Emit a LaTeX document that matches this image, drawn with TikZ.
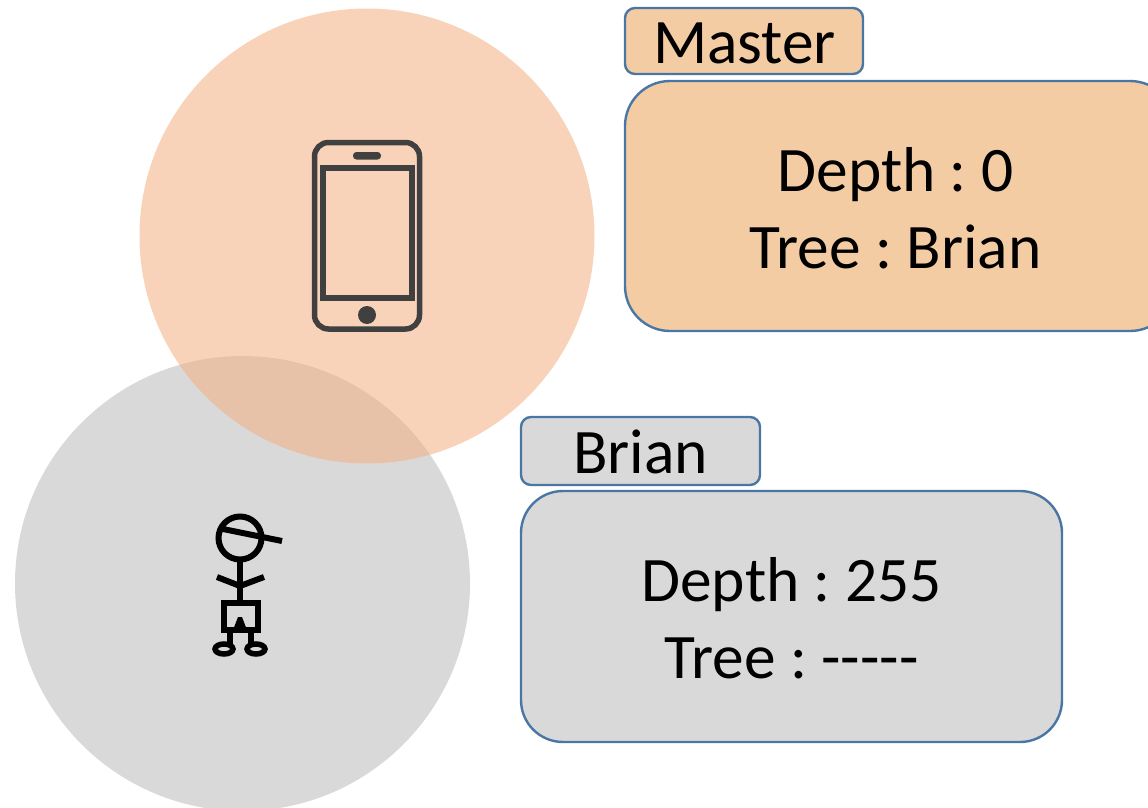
\documentclass[tikz,border=0pt]{standalone}
\usepackage{fontspec}
\setmainfont{Carlito}
\definecolor{peach}{HTML}{F4B183}
\definecolor{greyfill}{HTML}{D9D9D9}
\definecolor{boxpeach}{HTML}{F4CCA4}
\definecolor{edgeblue}{HTML}{4A76A4}
\definecolor{iconink}{HTML}{404040}
\tikzset{
  px/.style={x=1pt,y=-1pt},
  disc/.style={circle,draw=none,inner sep=0pt,minimum size=455pt},
  tag/.style={draw=edgeblue,line width=2.4pt,rounded corners=10pt,inner sep=0pt},
  panel/.style={draw=edgeblue,line width=2.4pt,inner sep=0pt},
  words/.style={inner sep=0pt,align=center,font=\fontsize{63.4}{77}\selectfont\frenchspacing},
  ink/.style={draw=black,line width=6pt},
  phoneink/.style={draw=iconink,line width=5.5pt}
}
\begin{document}
\begin{tikzpicture}[px]
\useasboundingbox (0,0) rectangle (1148,808);
\clip (0,0) rectangle (1148,808);
\node[disc,fill=greyfill] (briandisc) at (242.5,583.5) {};
\node[disc,fill=peach,fill opacity=0.56] (masterdisc) at (367,236) {};
% phone
\draw[phoneink,rounded corners=14pt] (314.5,142.5) rectangle (419.5,329);
\draw[phoneink] (323,168) rectangle (412,298);
\fill[iconink,rounded corners=3.4pt] (353,152) rectangle (381,159.5);
\fill[iconink] (367,315) circle (9);
% person
\draw[ink] (240,538) circle (21.5);
\draw[ink] (223,529) -- (282,541);
\draw[ink] (240,560) -- (240,602);
\draw[ink] (217,577) -- (240,586) -- (264,577);
\draw[ink] (224,603) rectangle (258,629.5);
\fill[black] (233,630) -- (238,617) -- (242,617) -- (247,630) -- cycle;
\draw[ink,line width=5.5pt] (230,631) -- (230,645) (251,631) -- (251,645);
\draw[ink,line width=5.5pt] (224,649) ellipse (9 and 5);
\draw[ink,line width=5.5pt] (256,649) ellipse (9 and 5);
% boxes
\node[tag,fill=boxpeach,minimum width=238pt,minimum height=66pt] (mastertag) at (744,41) {};
\node[panel,fill=boxpeach,rounded corners=45pt,minimum width=550pt,minimum height=250pt] (masterpanel) at (900,206) {};
\node[words] (mastertitle) at (744.5,48) {\strut Master};
\node[words] (mastertext) at (895.5,208) {Depth : 0\\Tree : Brian};
\node[tag,fill=greyfill,minimum width=239pt,minimum height=68pt] (briantag) at (640.5,451) {};
\node[panel,fill=greyfill,rounded corners=42pt,minimum width=541pt,minimum height=251pt] (brianpanel) at (791.5,616.5) {};
\node[words] (briantitle) at (640.5,458) {\strut Brian};
\node[words] (briantext) at (791.5,618) {Depth : 255\\Tree : -{}-{}-{}-{}-};
\end{tikzpicture}
\end{document}
